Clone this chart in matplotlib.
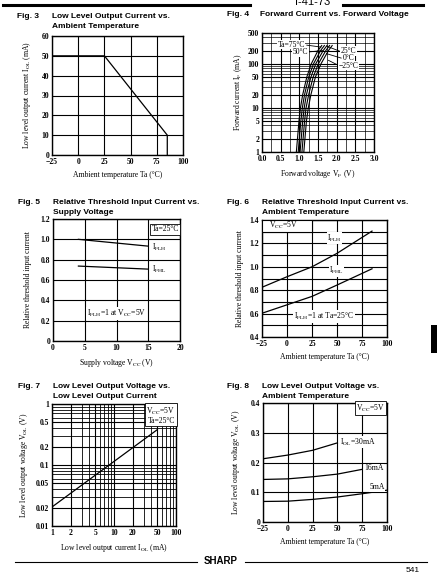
import numpy as np
import matplotlib
matplotlib.use("Agg")
import matplotlib.pyplot as plt
from matplotlib.lines import Line2D
from matplotlib.patches import Rectangle

plt.rcParams['font.family'] = ['Liberation Serif', 'DejaVu Serif']
plt.rcParams['mathtext.fontset'] = 'stix'

# Fig. 3
ta3 = [-25, 25, 85, 85]
iol3 = [50, 50, 10, 0]

# Fig. 4  forward current vs forward voltage, one curve per temperature
if4 = [1, 2, 5, 10, 20, 50, 100, 200, 260]
vf4 = {
    '75': [0.92, 0.95, 0.99, 1.03, 1.09, 1.20, 1.32, 1.50, 1.60],
    '50': [0.97, 1.00, 1.04, 1.08, 1.14, 1.25, 1.38, 1.57, 1.67],
    '25': [1.02, 1.05, 1.09, 1.13, 1.19, 1.31, 1.44, 1.64, 1.74],
    '0': [1.07, 1.10, 1.14, 1.18, 1.25, 1.37, 1.51, 1.71, 1.81],
    '-25': [1.12, 1.15, 1.19, 1.24, 1.31, 1.43, 1.58, 1.78, 1.88],
}

# Fig. 5
vcc5 = [4, 15]
iflh5 = [1.0, 0.933]
ifhl5 = [0.737, 0.707]

# Fig. 6
ta6 = [-25, 0, 25, 50, 85]
iflh6 = [0.825, 0.915, 1.0, 1.115, 1.305]
ifhl6 = [0.603, 0.675, 0.747, 0.844, 0.983]

# Fig. 7
iol7 = [1, 50]
vol7 = [0.0205, 0.38]

# Fig. 8
ta8 = [-25, 0, 25, 50, 75, 100]
vol8_30 = [0.2125, 0.225, 0.241, 0.266]
vol8_16 = [0.143, 0.145, 0.152, 0.161, 0.177]
vol8_5 = [0.069, 0.070, 0.076, 0.084, 0.095, 0.107]

W, H = 437, 579
fig = plt.figure(figsize=(W / 100, H / 100), dpi=100)


def px_axes(l, r, t, b):
    return fig.add_axes([l / W, 1 - b / H, (r - l) / W, (b - t) / H])


def style(ax):
    for s in ax.spines.values():
        s.set_linewidth(1.0)
    ax.tick_params(length=0, labelsize=5.5, pad=2)
    for lab in ax.get_xticklabels() + ax.get_yticklabels():
        lab.set_fontweight('bold')
    ax.grid(True, which='major', color='black', lw=0.8)


def title(x, y, num, lines):
    fig.text(x / W, 1 - y / H, 'Fig. %d' % num, fontsize=6, fontweight='bold',
             family='Liberation Sans', va='center')
    for i, ln in enumerate(lines):
        fig.text((x + 35) / W, 1 - (y + 10 * i) / H, ln, fontsize=6,
                 fontweight='bold', family='Liberation Sans', va='center')


lab_kw = dict(fontsize=5.5)

# ---- Fig. 3
ax = px_axes(52, 183, 36, 155)
ax.plot(ta3, iol3, color='black', lw=0.9)
ax.set_xlim(-25, 100)
ax.set_ylim(0, 60)
ax.set_xticks([-25, 0, 25, 50, 75, 100])
ax.set_xticklabels(['\u221225', '0', '25', '50', '75', '100'])
ax.set_yticks(range(0, 61, 10))
style(ax)
ax.set_xlabel('Ambient temperature Ta (°C)', labelpad=4, **lab_kw)
ax.set_ylabel('Low level output current I$_{\\mathrm{OL}}$ (mA)', labelpad=6, **lab_kw)
title(17, 16, 3, ['Low Level Output Current vs.', 'Ambient Temperature'])

# ---- Fig. 4
ax = px_axes(262, 374, 33, 152)
for k, v in vf4.items():
    ax.plot(v, if4, color='black', lw=0.8)
ax.set_yscale('log')
ax.set_xlim(0, 3.0)
ax.set_ylim(1, 500)
ax.set_xticks(np.arange(0, 3.01, 0.5))
ax.set_xticks(np.arange(0, 3.01, 0.25), minor=True)
ax.set_yticks([1, 2, 5, 10, 20, 50, 100, 200, 500])
ax.set_yticklabels(['1', '2', '5', '10', '20', '50', '100', '200', '500'])
ax.yaxis.set_minor_formatter(plt.NullFormatter())
style(ax)
ax.tick_params(which='minor', length=0)
ax.grid(True, which='minor', color='black', lw=0.5)
ax.set_xlabel('Forward voltage V$_{\\mathrm{F}}$ (V)', labelpad=4, **lab_kw)
ax.set_ylabel('Forward current I$_{\\mathrm{F}}$ (mA)', labelpad=3, **lab_kw)
bb = dict(facecolor='white', edgecolor='none', pad=0.4)
ax.text(0.78, 270, 'Ta=75°C', fontsize=5.5, ha='center', va='center', bbox=bb)
ax.text(1.03, 185, '50°C', fontsize=5.5, ha='center', va='center', bbox=bb)
ax.text(2.32, 195, '25°C', fontsize=5.5, ha='center', va='center', bbox=bb)
ax.text(2.32, 135, '0°C', fontsize=5.5, ha='center', va='center', bbox=bb)
ax.text(2.32, 90, '\u221225°C', fontsize=5.5, ha='center', va='center', bbox=bb)
ax.plot([1.2, 1.58], [265, 240], color='black', lw=0.6)
ax.plot([1.22, 1.62], [185, 200], color='black', lw=0.6)
ax.plot([1.74, 2.07], [250, 195], color='black', lw=0.6)
ax.plot([1.73, 2.12], [170, 135], color='black', lw=0.6)
ax.plot([1.78, 2.05], [120, 92], color='black', lw=0.6)
fig.text(227 / W, 1 - 15 / H, 'Fig. 4', fontsize=6, fontweight='bold',
         family='Liberation Sans', va='center')
fig.text(260 / W, 1 - 15 / H, 'Forward Current vs. Forward Voltage', fontsize=6,
         fontweight='bold', family='Liberation Sans', va='center')

# ---- Fig. 5
ax = px_axes(53, 180, 219, 341)
ax.plot(vcc5, iflh5, color='black', lw=0.9)
ax.plot(vcc5, ifhl5, color='black', lw=0.9)
ax.set_xlim(0, 20)
ax.set_ylim(0, 1.2)
ax.set_xticks([0, 5, 10, 15, 20])
ax.set_yticks([0, 0.2, 0.4, 0.6, 0.8, 1.0, 1.2])
ax.set_yticklabels(['0', '0.2', '0.4', '0.6', '0.8', '1.0', '1.2'])
style(ax)
ax.set_xlabel('Supply voltage V$_{\\mathrm{CC}}$ (V)', labelpad=4, **lab_kw)
ax.set_ylabel('Relative threshold input current', labelpad=6, **lab_kw)
ax.text(15.6, 0.92, 'I$_{\\mathrm{FLH}}$', fontsize=5.5, va='center')
ax.text(15.6, 0.70, 'I$_{\\mathrm{FHL}}$', fontsize=5.5, va='center')
ax.text(19.8, 1.10, 'Ta=25°C', fontsize=5.5, ha='right', va='center',
        bbox=dict(facecolor='white', edgecolor='black', lw=0.6, pad=1.0))
ax.text(10, 0.27, 'I$_{\\mathrm{FLH}}$=1 at V$_{\\mathrm{CC}}$=5V', fontsize=5.5,
        ha='center', va='center', bbox=dict(facecolor='white', edgecolor='none', pad=0.5))
title(18, 202, 5, ['Relative Threshold Input Current vs.', 'Supply Voltage'])

# ---- Fig. 6
ax = px_axes(262, 387, 220, 337)
ax.plot(ta6, iflh6, color='black', lw=0.9)
ax.plot(ta6, ifhl6, color='black', lw=0.9)
ax.set_xlim(-25, 100)
ax.set_ylim(0.4, 1.4)
ax.set_xticks([-25, 0, 25, 50, 75, 100])
ax.set_xticklabels(['\u221225', '0', '25', '50', '75', '100'])
ax.set_yticks([0.4, 0.6, 0.8, 1.0, 1.2, 1.4])
ax.set_yticks(np.arange(0.4, 1.41, 0.1), minor=True)
style(ax)
ax.tick_params(which='minor', length=0)
ax.grid(True, which='minor', axis='y', color='black', lw=0.8)
ax.set_xlabel('Ambient temperature Ta (°C)', labelpad=4, **lab_kw)
ax.set_ylabel('Relative threshold input current', labelpad=4, **lab_kw)
ax.add_patch(Rectangle((-25, 1.3), 50, 0.1, facecolor='white', edgecolor='black', lw=0.8, zorder=3))
ax.text(-18, 1.35, 'V$_{\\mathrm{CC}}$=5V', fontsize=5.5, va='center', zorder=4)
ax.text(40, 1.245, 'I$_{\\mathrm{FLH}}$', fontsize=5.5, va='center',
        bbox=dict(facecolor='white', edgecolor='none', pad=0.3))
ax.text(42, 0.965, 'I$_{\\mathrm{FHL}}$', fontsize=5.5, va='center',
        bbox=dict(facecolor='white', edgecolor='none', pad=0.3))
ax.text(37, 0.575, 'I$_{\\mathrm{FLH}}$=1 at Ta=25°C', fontsize=5.5, ha='center', va='center',
        bbox=dict(facecolor='white', edgecolor='none', pad=0.5))
title(227, 202, 6, ['Relative Threshold Input Current vs.', 'Ambient Temperature'])

# ---- Fig. 7
ax = px_axes(52, 176, 404, 526)
ax.plot(iol7, vol7, color='black', lw=0.9)
ax.set_xscale('log')
ax.set_yscale('log')
ax.set_xlim(1, 100)
ax.set_ylim(0.01, 1)
ax.set_xticks([1, 2, 5, 10, 20, 50, 100])
ax.set_xticklabels(['1', '2', '5', '10', '20', '50', '100'])
ax.set_yticks([0.01, 0.02, 0.05, 0.1, 0.2, 0.5, 1])
ax.set_yticklabels(['0.01', '0.02', '0.05', '0.1', '0.2', '0.5', '1'])
ax.xaxis.set_minor_formatter(plt.NullFormatter())
ax.yaxis.set_minor_formatter(plt.NullFormatter())
style(ax)
ax.tick_params(which='minor', length=0)
ax.grid(True, which='minor', color='black', lw=0.6)
ax.set_xlabel('Low level output current I$_{\\mathrm{OL}}$ (mA)', labelpad=4, **lab_kw)
ax.set_ylabel('Low level output voltage V$_{\\mathrm{OL}}$ (V)', labelpad=4, **lab_kw)
ax.text(97, 0.93, 'V$_{\\mathrm{CC}}$=5V\nTa=25°C', fontsize=5.5, ha='right', va='top',
        linespacing=1.0, bbox=dict(facecolor='white', edgecolor='black', lw=0.6, pad=1.0))
title(18, 387, 7, ['Low Level Output Voltage vs.', 'Low Level Output Current'])

# ---- Fig. 8
ax = px_axes(263, 387, 403, 522)
ax.plot(ta8[:4], vol8_30, color='black', lw=0.9)
ax.plot(ta8[:5], vol8_16, color='black', lw=0.9)
ax.plot(ta8, vol8_5, color='black', lw=0.9)
ax.set_xlim(-25, 100)
ax.set_ylim(0, 0.4)
ax.set_xticks([-25, 0, 25, 50, 75, 100])
ax.set_xticklabels(['\u221225', '0', '25', '50', '75', '100'])
ax.set_yticks([0, 0.1, 0.2, 0.3, 0.4])
ax.set_yticklabels(['0', '0.1', '0.2', '0.3', '0.4'])
style(ax)
ax.set_xlabel('Ambient temperature Ta (°C)', labelpad=4, **lab_kw)
ax.set_ylabel('Low level output voltage V$_{\\mathrm{OL}}$ (V)', labelpad=6, **lab_kw)
ax.text(98, 0.383, 'V$_{\\mathrm{CC}}$=5V', fontsize=5.5, ha='right', va='center',
        bbox=dict(facecolor='white', edgecolor='black', lw=0.6, pad=1.0))
ax.text(53, 0.268, 'I$_{\\mathrm{OL}}$=30mA', fontsize=5.5, va='center',
        bbox=dict(facecolor='white', edgecolor='none', pad=0.3))
ax.text(77, 0.18, '16mA', fontsize=5.5, va='center',
        bbox=dict(facecolor='white', edgecolor='none', pad=0.3))
ax.text(82, 0.116, '5mA', fontsize=5.5, va='center',
        bbox=dict(facecolor='white', edgecolor='none', pad=0.3))
title(227, 387, 8, ['Low Level Output Voltage vs.', 'Ambient Temperature'])

# page header / footer
fig.add_artist(Line2D([3 / W, 250 / W], [1 - 5 / H] * 2, color='black', lw=2.2))
fig.add_artist(Line2D([343 / W, 423 / W], [1 - 5 / H] * 2, color='black', lw=2.2))
fig.text(313 / W, 1 - 2 / H, 'I-41-73', fontsize=8, ha='center', va='center',
         family='Liberation Sans')
fig.add_artist(Line2D([15 / W, 197 / W], [1 - 562 / H] * 2, color='black', lw=0.8))
fig.add_artist(Line2D([245 / W, 427 / W], [1 - 562 / H] * 2, color='black', lw=0.8))
fig.text(221 / W, 1 - 561 / H, 'SHARP', fontsize=7, fontweight='bold', ha='center',
         va='center', family='Liberation Sans')
fig.text(420 / W, 1 - 570 / H, '541', fontsize=6, ha='right', va='center',
         family='Liberation Sans')
fig.add_artist(Rectangle((431 / W, 1 - 353 / H), 6 / W, 28 / H, facecolor='black',
                         edgecolor='none', transform=fig.transFigure))

fig.savefig('out.png', dpi=100)
